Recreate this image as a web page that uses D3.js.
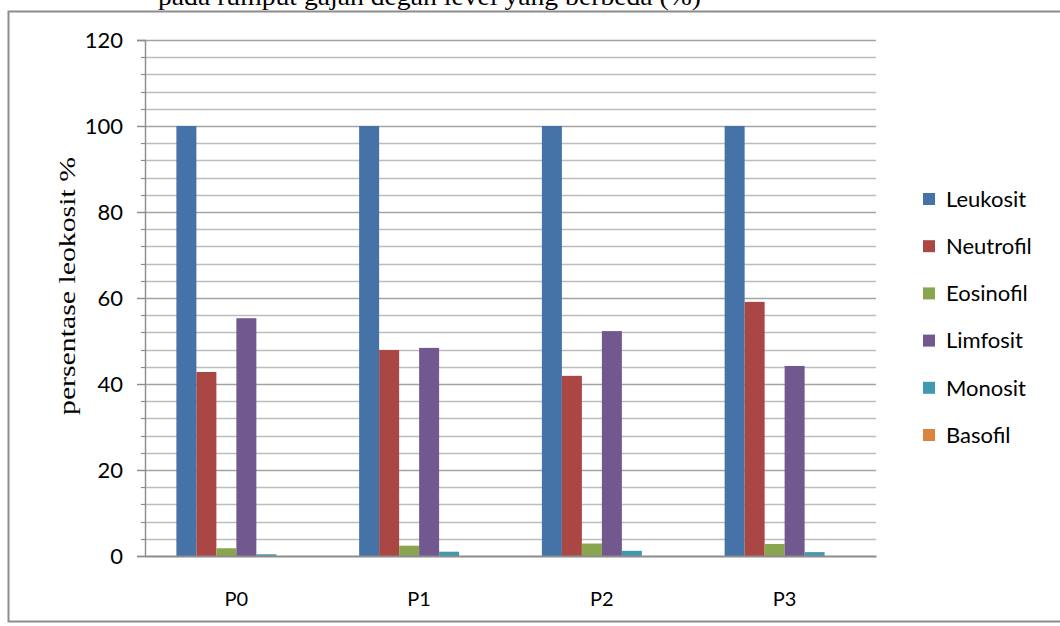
<!DOCTYPE html>
<html>
<head>
<meta charset="utf-8">
<script src="https://cdn.jsdelivr.net/npm/d3@7"></script>
<style>
  html, body { margin: 0; padding: 0; background: #fff; }
  svg { display: block; }
</style>
</head>
<body>
<svg id="chart" width="1060" height="626"></svg>
<script>
// Treatment groups (x-axis categories)
const categories = ["P0", "P1", "P2", "P3"];
// Series names, in legend order
const seriesNames = ["Leukosit", "Neutrofil", "Eosinofil", "Limfosit", "Monosit", "Basofil"];
// Percentage values per series, one per category
const leukosit  = [100, 100, 100, 100];
const neutrofil = [42.8, 47.9, 41.9, 59.1];
const eosinofil = [1.8, 2.4, 2.9, 2.8];
const limfosit  = [55.3, 48.4, 52.3, 44.2];
const monosit   = [0.4, 1.0, 1.2, 0.9];
const basofil   = [0, 0, 0, 0];
const seriesValues = [leukosit, neutrofil, eosinofil, limfosit, monosit, basofil];
// Y-axis tick labels
const yTicks = [0, 20, 40, 60, 80, 100, 120];
const titleText = "pada rumput gajah degan level yang berbeda (%)";
const yTitle = "persentase leokosit %";

const colors = ["#4572A7", "#AA4643", "#89A54E", "#71588F", "#4198AF", "#DB843D"];
const sans = "Lato, 'Open Sans', sans-serif";
const serif = "'Liberation Serif', 'Times New Roman', serif";

const svg = d3.select("#chart");
const plot = { left: 145, right: 876, top: 40, bottom: 556 };

// Outer chart frame
svg.append("rect")
  .attr("x", 8.5).attr("y", 11.5)
  .attr("width", 1070).attr("height", 610)
  .attr("fill", "#fff")
  .attr("stroke", "#8c8c8c").attr("stroke-width", 2);

// Heading text (partially above the frame)
svg.append("text")
  .attr("x", 158).attr("y", 5)
  .attr("font-family", serif)
  .attr("font-size", 25)
  .attr("fill", "#000")
  .attr("textLength", 543)
  .attr("lengthAdjust", "spacingAndGlyphs")
  .text(titleText);

const y = d3.scaleLinear().domain([0, 120]).range([plot.bottom, plot.top]);
const x0 = d3.scaleBand().domain(categories).range([plot.left, plot.right]).paddingInner(0).paddingOuter(0);
const x1 = d3.scaleBand().domain(seriesNames).range([0, x0.bandwidth()]).paddingInner(0).paddingOuter(1.57);

// Gridlines: minor every 4, major every 20
const minor = d3.range(4, 120, 4).filter(v => v % 20 !== 0);
svg.append("g").selectAll("line").data(minor).join("line")
  .attr("x1", plot.left).attr("x2", plot.right)
  .attr("y1", d => Math.round(y(d)) + 0.5).attr("y2", d => Math.round(y(d)) + 0.5)
  .attr("stroke", "#bdbdbd").attr("stroke-width", 1.3);
svg.append("g").selectAll("line").data(yTicks.filter(v => v > 0)).join("line")
  .attr("x1", plot.left).attr("x2", plot.right)
  .attr("y1", d => Math.round(y(d)) + 0.5).attr("y2", d => Math.round(y(d)) + 0.5)
  .attr("stroke", "#a3a3a3").attr("stroke-width", 1.5);

// Bars
const groups = svg.append("g").selectAll("g").data(categories).join("g")
  .attr("transform", d => `translate(${x0(d)},0)`);
groups.selectAll("rect")
  .data((c, ci) => seriesNames.map((s, si) => ({ s, si, v: seriesValues[si][ci] })))
  .join("rect")
  .attr("x", d => x1(d.s))
  .attr("width", x1.bandwidth())
  .attr("y", d => y(d.v))
  .attr("height", d => y(0) - y(d.v))
  .attr("fill", d => colors[d.si]);

// Y axis
const yAxis = d3.axisLeft(y).tickValues(yTicks).tickSize(8).tickPadding(14);
const gy = svg.append("g").attr("transform", `translate(${plot.left},0)`).call(yAxis);
gy.select(".domain").attr("stroke", "#8c8c8c").attr("stroke-width", 1.4);
gy.selectAll(".tick line").attr("stroke", "#8c8c8c").attr("stroke-width", 1.4);
gy.selectAll(".tick text")
  .attr("font-family", sans)
  .attr("font-size", 22).attr("fill", "#000");
// Minor tick marks on the value axis
gy.append("g").selectAll("line").data(minor).join("line")
  .attr("x1", -4).attr("x2", 0)
  .attr("y1", d => Math.round(y(d)) + 0.5).attr("y2", d => Math.round(y(d)) + 0.5)
  .attr("stroke", "#8c8c8c").attr("stroke-width", 1.2);

// X axis
const xAxis = d3.axisBottom(x0).tickSize(0).tickPadding(36);
const gx = svg.append("g").attr("transform", `translate(0,${plot.bottom})`).call(xAxis);
gx.select(".domain").attr("stroke", "#8c8c8c").attr("stroke-width", 2);
gx.selectAll(".tick text")
  .attr("font-family", sans)
  .attr("font-size", 20).attr("fill", "#000");

// Y-axis title
svg.append("text")
  .attr("transform", `translate(75,286) rotate(-90)`)
  .attr("text-anchor", "middle")
  .attr("font-family", serif)
  .attr("font-size", 24)
  .attr("textLength", 258)
  .attr("lengthAdjust", "spacingAndGlyphs")
  .attr("fill", "#000")
  .text(yTitle);

// Legend
const legend = svg.append("g").attr("transform", "translate(923,199)");
const li = legend.selectAll("g").data(seriesNames).join("g")
  .attr("transform", (d, i) => `translate(0,${i * 47.2})`);
li.append("rect").attr("x", 0).attr("y", -6).attr("width", 12).attr("height", 12)
  .attr("fill", (d, i) => colors[i]);
li.append("text").attr("x", 23).attr("y", 0).attr("dy", "0.35em")
  .attr("font-family", sans)
  .attr("font-size", 22).attr("fill", "#000")
  .text(d => d);
</script>
</body>
</html>
